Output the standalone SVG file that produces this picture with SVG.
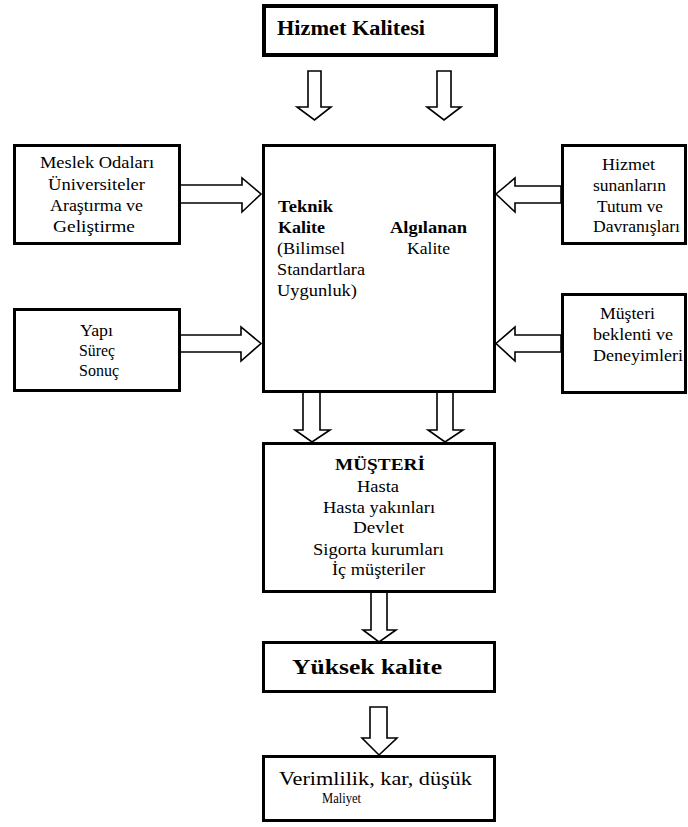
<svg xmlns="http://www.w3.org/2000/svg" width="688" height="827" viewBox="0 0 688 827">
<style>
.box{fill:#fff;stroke:#000;stroke-width:3}
.thick{stroke-width:4}
.arr{fill:#fff;stroke:#000;stroke-width:1.6;stroke-linejoin:miter}
text{font-family:"Liberation Serif","Times New Roman",serif;fill:#000}
.s{font-size:16px}
.m{font-size:17px}
.b{font-weight:bold}
</style>
<rect width="688" height="827" fill="#fff"/>
<g id="connectors">
<polygon class="arr" points="308,71 321,71 321,107 331,107 314.5,120 297,107 308,107"/>
<polygon class="arr" points="437,71 451,71 451,107 461,107 444,120 427,107 437,107"/>
<polygon class="arr" points="180,185 242,185 242,178 261,194 242,212 242,203 180,203"/>
<polygon class="arr" points="180,335 241,335 241,327 261,343.5 241,361 241,352 180,352"/>
<polygon class="arr" points="561,186 515,186 515,178 496,194 515,212 515,203 561,203"/>
<polygon class="arr" points="561,335 515,335 515,327 496,343.5 515,361 515,352 561,352"/>
<polygon class="arr" points="303,392 320,392 320,430 330,430 312,442 295,430 303,430"/>
<polygon class="arr" points="437,392 453,392 453,430 463,430 445,442 428,430 437,430"/>
<polygon class="arr" points="371,592 387,592 387,630 396,630 379,642 363,630 371,630"/>
<polygon class="arr" points="370,707 387,707 387,738 397,738 379,755 362,738 370,738"/>
</g>
<g id="hizmet-kalitesi">
<rect class="box thick" x="264" y="6" width="232" height="49"/>
<text class="b" x="277" y="35" font-size="20" textLength="148" lengthAdjust="spacingAndGlyphs">Hizmet Kalitesi</text>
</g>
<g id="meslek">
<rect class="box" x="14.5" y="145.5" width="165" height="98"/>
<text class="s" x="40" y="168" textLength="114" lengthAdjust="spacingAndGlyphs">Meslek Odaları</text>
<text class="s" x="48" y="190" textLength="97" lengthAdjust="spacingAndGlyphs">Üniversiteler</text>
<text class="s" x="50" y="211" textLength="93" lengthAdjust="spacingAndGlyphs">Araştırma ve</text>
<text class="s" x="53" y="232" textLength="82" lengthAdjust="spacingAndGlyphs">Geliştirme</text>
</g>
<g id="yapi">
<rect class="box" x="14.5" y="309.5" width="165" height="81"/>
<text class="s" x="80" y="336" textLength="33" lengthAdjust="spacingAndGlyphs">Yapı</text>
<text class="s" x="79" y="356" textLength="36" lengthAdjust="spacingAndGlyphs">Süreç</text>
<text class="s" x="79" y="376" textLength="40" lengthAdjust="spacingAndGlyphs">Sonuç</text>
</g>
<g id="kalite">
<rect class="box" x="263.5" y="145.5" width="231" height="246"/>
<text class="m b" x="278" y="212" textLength="55" lengthAdjust="spacingAndGlyphs">Teknik</text>
<text class="m b" x="278" y="233" textLength="47" lengthAdjust="spacingAndGlyphs">Kalite</text>
<text class="m" x="277" y="254" textLength="68" lengthAdjust="spacingAndGlyphs">(Bilimsel</text>
<text class="m" x="277" y="275" textLength="88" lengthAdjust="spacingAndGlyphs">Standartlara</text>
<text class="m" x="277" y="296" textLength="80" lengthAdjust="spacingAndGlyphs">Uygunluk)</text>
<text class="m b" x="390" y="233" textLength="77" lengthAdjust="spacingAndGlyphs">Algılanan</text>
<text class="m" x="407" y="254" textLength="43" lengthAdjust="spacingAndGlyphs">Kalite</text>
</g>
<g id="hizmet-sunanlar">
<rect class="box" x="562.5" y="145.5" width="123" height="98"/>
<text class="s" x="602" y="170" textLength="53" lengthAdjust="spacingAndGlyphs">Hizmet</text>
<text class="s" x="593" y="191" textLength="73" lengthAdjust="spacingAndGlyphs">sunanların</text>
<text class="s" x="597" y="212" textLength="66" lengthAdjust="spacingAndGlyphs">Tutum ve</text>
<text class="s" x="593" y="232" textLength="87" lengthAdjust="spacingAndGlyphs">Davranışları</text>
</g>
<g id="musteri-beklenti">
<rect class="box" x="562.5" y="294.5" width="123" height="98"/>
<text class="s" x="600" y="319" textLength="55" lengthAdjust="spacingAndGlyphs">Müşteri</text>
<text class="s" x="593" y="340" textLength="80" lengthAdjust="spacingAndGlyphs">beklenti ve</text>
<text class="s" x="593" y="361" textLength="90" lengthAdjust="spacingAndGlyphs">Deneyimleri</text>
</g>
<g id="musteri">
<rect class="box" x="263.5" y="443.5" width="231" height="148"/>
<text class="m b" x="335" y="470" textLength="90" lengthAdjust="spacingAndGlyphs">MÜŞTERİ</text>
<text class="s" x="357" y="492" textLength="42" lengthAdjust="spacingAndGlyphs">Hasta</text>
<text class="s" x="323" y="513" textLength="112" lengthAdjust="spacingAndGlyphs">Hasta yakınları</text>
<text class="s" x="353" y="533" textLength="51" lengthAdjust="spacingAndGlyphs">Devlet</text>
<text class="s" x="313" y="555" textLength="131" lengthAdjust="spacingAndGlyphs">Sigorta kurumları</text>
<text class="s" x="332" y="575" textLength="93" lengthAdjust="spacingAndGlyphs">İç müşteriler</text>
</g>
<g id="yuksek-kalite">
<rect class="box" x="263.5" y="642.5" width="231" height="49"/>
<text class="b" x="292" y="674" font-size="21" textLength="150" lengthAdjust="spacingAndGlyphs">Yüksek kalite</text>
</g>
<g id="verimlilik">
<rect class="box" x="263.5" y="756.5" width="231" height="64"/>
<text x="279" y="785" font-size="19" textLength="193" lengthAdjust="spacingAndGlyphs">Verimlilik, kar, düşük</text>
<text x="322" y="803" font-size="15" textLength="39" lengthAdjust="spacingAndGlyphs">Maliyet</text>
</g>
</svg>
